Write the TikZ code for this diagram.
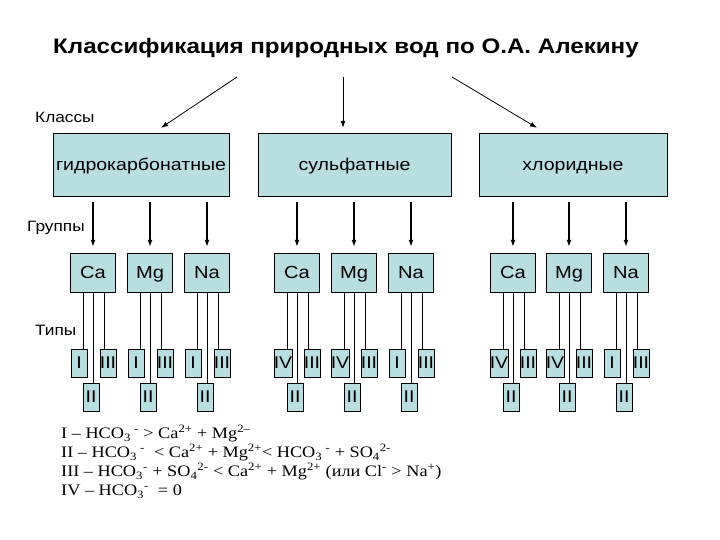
\documentclass[tikz,border=0pt]{standalone}
\usepackage{fontspec}
\setmainfont{Liberation Sans}[FakeStretch=1.15]
\newfontfamily\legendfont{Liberation Serif}[FakeStretch=1.14]
\usetikzlibrary{arrows.meta,positioning}
\definecolor{boxfill}{RGB}{185,222,225}

\begin{document}
\begin{tikzpicture}[
  x=1pt, y=-1pt,
  cls/.style={rectangle, draw, fill=boxfill, minimum height=63pt, inner sep=0pt, text height=14pt, text depth=1pt, font=\fontsize{17}{20}\selectfont},
  grp/.style={rectangle, draw, fill=boxfill, minimum width=45pt, minimum height=39pt, inner sep=0pt, text height=13pt, text depth=2pt, font=\fontsize{17.5}{20}\selectfont},
  typ/.style={rectangle, draw, fill=boxfill, minimum width=16pt, minimum height=28pt, inner sep=0pt, text height=12pt, text depth=1pt, font=\fontsize{17}{18}\selectfont},
  lbl/.style={anchor=west, inner sep=0pt, font=\fontsize{15}{18}\selectfont},
  arr/.style={-{Latex[length=7pt,width=5pt]}, line width=0.8pt},
  down/.style={-{Latex[length=7pt,width=5pt]}, line width=1.2pt, shorten <=6pt, shorten >=6pt}
]
  \useasboundingbox (0,0) rectangle (720,540);

  \node[font=\bfseries\fontsize{21}{25}\selectfont] (title) at (346,48) {Классификация природных вод по О.А. Алекину};

  \node[lbl] (lcls) at (35,117) {Классы};
  \node[lbl] (lgrp) at (27,228) {Группы};
  \node[lbl] (ltyp) at (35,330) {Типы};

  % classes
  \node[cls, minimum width=176pt] (hc) at (141,164.5) {гидрокарбонатные};
  \node[cls, minimum width=193pt] (su) at (354.5,164.5) {сульфатные};
  \node[cls, minimum width=188pt] (cl) at (573,164.5) {хлоридные};

  \coordinate (t1) at (237,77);
  \coordinate (t2) at (343,77);
  \coordinate (t3) at (452,77);
  \draw[arr] (t1) -- ([xshift=20pt, yshift=5pt]hc.north);
  \draw[arr] (t2) -- ([xshift=-11.5pt, yshift=5pt]su.north);
  \draw[arr] (t3) -- ([xshift=-36pt, yshift=5pt]cl.north);

  % groups
  \foreach \grp/\lab/\cx/\up in {hcCa/Ca/93/hc, hcMg/Mg/150/hc, hcNa/Na/207/hc,
      suCa/Ca/297/su, suMg/Mg/354/su, suNa/Na/411/su,
      clCa/Ca/513/cl, clMg/Mg/569/cl, clNa/Na/626/cl} {
    \node[grp] (\grp) at (\cx,272.5) {\lab};
    \draw[down] (\up.south -| \grp) -- (\grp);
  }

  % types
  \foreach \grp/\first in {hcCa/I, hcMg/I, hcNa/I, suCa/IV, suMg/IV, suNa/I,
      clCa/IV, clMg/IV, clNa/I} {
    \node[typ, below=57pt of \grp.south, xshift=-14pt] (\grp-a) {\first};
    \node[typ, below=91pt of \grp.south, xshift=-2pt] (\grp-b) {II};
    \node[typ, below=57pt of \grp.south, xshift=15pt] (\grp-c) {III};
    \draw ([xshift=-10pt]\grp.south) -- ([xshift=-10pt]\grp.south |- \grp-a.north);
    \draw (\grp.south) -- (\grp.south |- \grp-b.north);
    \draw ([xshift=11pt]\grp.south) -- ([xshift=11pt]\grp.south |- \grp-c.north);
  }

  % legend
  \node[anchor=north west, inner sep=0pt, align=left, font=\legendfont\fontsize{16}{19}\selectfont] (leg) at (61,425) {%
    I – HCO\textsubscript{3}\textsuperscript{ -} > Ca\textsuperscript{2+} + Mg\textsuperscript{2–}\\
    II – HCO\textsubscript{3}\textsuperscript{ -}\ \ < Ca\textsuperscript{2+} + Mg\textsuperscript{2+}< HCO\textsubscript{3}\textsuperscript{ -} + SO\textsubscript{4}\textsuperscript{2-}\\
    III – HCO\textsubscript{3}\textsuperscript{-} + SO\textsubscript{4}\textsuperscript{2-} < Ca\textsuperscript{2+} + Mg\textsuperscript{2+} (или Cl\textsuperscript{-} > Na\textsuperscript{+})\\
    IV – HCO\textsubscript{3}\textsuperscript{-}\ \ = 0};
\end{tikzpicture}
\end{document}
